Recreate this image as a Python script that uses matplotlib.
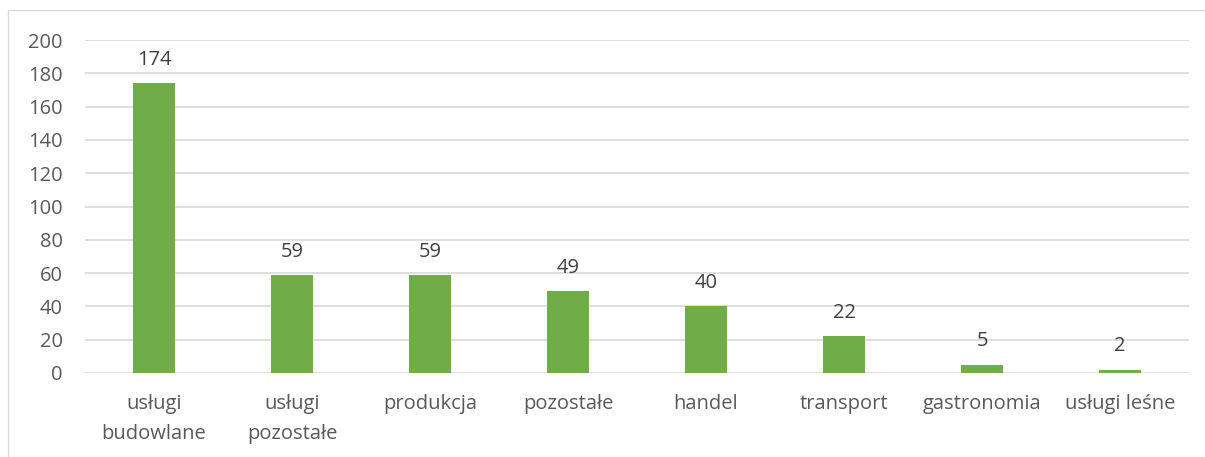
import matplotlib
matplotlib.use("Agg")
import matplotlib.pyplot as plt
from matplotlib.patches import Rectangle

categories = ["usługi\nbudowlane", "usługi\npozostałe", "produkcja", "pozostałe",
              "handel", "transport", "gastronomia", "usługi leśne"]
values = [174, 59, 59, 49, 40, 22, 5, 2]
yticks = [0, 20, 40, 60, 80, 100, 120, 140, 160, 180, 200]

plt.rcParams['font.family'] = ['Open Sans', 'DejaVu Sans']
txt = '#595959'
fs = 14.5

fig = plt.figure(figsize=(12.05, 4.57), dpi=100)
ax = fig.add_axes([85/1205, 1 - 373/457, (1189-85)/1205, (373-40)/457])

x = range(len(categories))
bars = ax.bar(x, values, width=0.31, color='#70AD47', zorder=3)
for xi, v in zip(x, values):
    ax.annotate(str(v), (xi, v), xytext=(0, 9.5), textcoords='offset points',
                ha='center', va='bottom', fontsize=fs, color='#404040')

ax.set_xlim(-0.5, len(categories) - 0.5)
ax.set_ylim(0, 200)
ax.set_yticks(yticks)
ax.set_xticks(list(x))
ax.set_xticklabels(categories, fontsize=fs, color=txt, linespacing=1.65)
ax.tick_params(axis='y', labelsize=fs, labelcolor=txt, length=0, pad=16)
ax.tick_params(axis='x', length=0, pad=15)
ax.grid(axis='y', color='#D9D9D9', linewidth=1.2, zorder=0)
for s in ax.spines.values():
    s.set_visible(False)

fig.patches.append(Rectangle((8/1205, -0.01), 1.0, 1 - 10/457 + 0.01,
                             transform=fig.transFigure, fill=False,
                             edgecolor='#D9D9D9', linewidth=1))
fig.savefig("out.png", dpi=100)
